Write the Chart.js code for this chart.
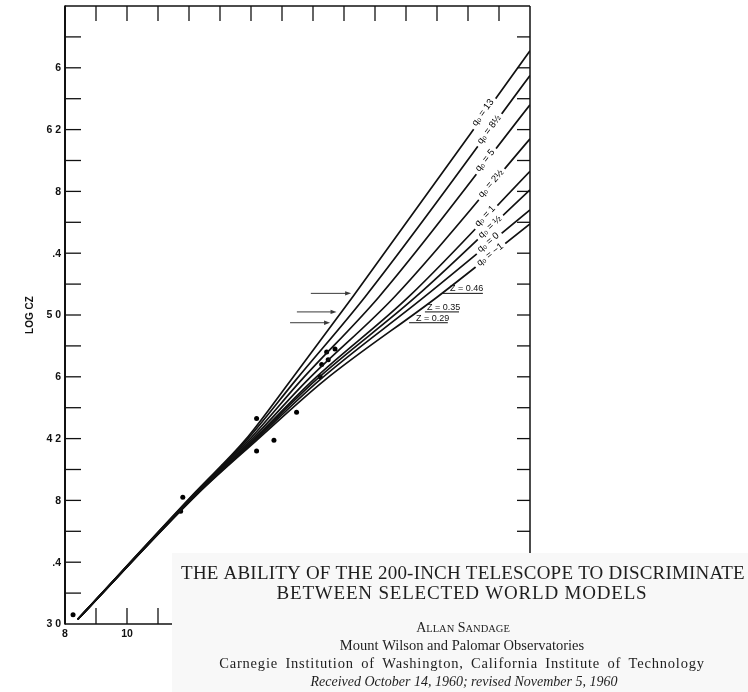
<!DOCTYPE html>
<html>
<head>
<meta charset="utf-8">
<script src="https://cdn.jsdelivr.net/npm/chart.js@4.4.0/dist/chart.umd.min.js"></script>
<style>
  html, body { margin: 0; padding: 0; background: #fff; }
  canvas { display: block; }
</style>
</head>
<body>
<canvas id="hubble-chart" width="748" height="692"></canvas>
<script>
// ─── DATA ──────────────────────────────────────────────────
const modelNames = ['q₀ = 13', 'q₀ = 8½', 'q₀ = 5', 'q₀ = 2½', 'q₀ = 1', 'q₀ = ½', 'q₀ = 0', 'q₀ = −1'];

// apparent magnitude / log cz along each model curve
const q13Mag    = [8.41, 12.19, 13.81, 15.29, 17.29, 23.0];
const q13LogCz  = [3.03, 3.85, 4.19, 4.58, 5.12, 6.71];
const q85Mag    = [8.41, 12.21, 13.86, 15.45, 17.69, 23.0];
const q85LogCz  = [3.03, 3.85, 4.19, 4.58, 5.12, 6.55];
const q5Mag     = [8.41, 12.23, 13.93, 15.63, 18.14, 23.0];
const q5LogCz   = [3.03, 3.85, 4.19, 4.58, 5.12, 6.36];
const q25Mag    = [8.41, 12.26, 14.00, 15.83, 18.64, 23.0];
const q25LogCz  = [3.03, 3.85, 4.19, 4.58, 5.12, 6.14];
const q1Mag     = [8.41, 12.28, 14.06, 16.01, 19.10, 23.0];
const q1LogCz   = [3.03, 3.85, 4.19, 4.58, 5.12, 5.93];
const qHalfMag  = [8.41, 12.29, 14.09, 16.10, 19.33, 23.0];
const qHalfLogCz= [3.03, 3.85, 4.19, 4.58, 5.12, 5.81];
const q0Mag     = [8.41, 12.30, 14.14, 16.22, 19.61, 23.0];
const q0LogCz   = [3.03, 3.85, 4.19, 4.58, 5.12, 5.68];
const qm1Mag    = [8.41, 12.32, 14.19, 16.39, 20.03, 23.0];
const qm1LogCz  = [3.03, 3.85, 4.19, 4.58, 5.12, 5.59];

// observed galaxies
const galaxyMag   = [8.26, 11.73, 11.80, 13.11, 14.18, 14.18, 14.74, 15.47, 16.23, 16.28, 16.44, 16.49, 16.71];
const galaxyLogCz = [3.06, 3.73, 3.82, 4.02, 4.12, 4.33, 4.19, 4.37, 4.60, 4.68, 4.76, 4.71, 4.78];

// curve labels
const labelMag   = [21.48, 21.68, 21.55, 21.74, 21.55, 21.71, 21.65, 21.71];
const labelLogCz = [6.31, 6.20, 6.00, 5.85, 5.64, 5.57, 5.47, 5.39];
const labelAngle = [54, 53, 52, 49, 46, 43, 40, 38];

// redshift markers
const zLabels     = ['Z = 0.46', 'Z = 0.35', 'Z = 0.29'];
const zLogCz      = [5.14, 5.02, 4.95];
const zTextMag    = [20.42, 19.68, 19.32];
const zLineFrom   = [20.19, 19.61, 19.10];
const zLineTo     = [21.48, 20.71, 20.35];
const arrowFrom   = [15.93, 15.48, 15.26];
const arrowTo     = [17.23, 16.76, 16.55];

// axes
const xTickValues = [9, 10, 11, 12, 13, 14, 15, 16, 17, 18, 19, 20, 21, 22];
const xLabelValues = [8, 10, 12, 14, 16, 18, 20, 22];
const xLabelText   = ['8', '10', '12', '14', '16', '18', '20', '22'];
const yTickValues = [3.2, 3.4, 3.6, 3.8, 4.0, 4.2, 4.4, 4.6, 4.8, 5.0, 5.2, 5.4, 5.6, 5.8, 6.0, 6.2, 6.4, 6.6, 6.8];
const yLabelValues = [3.0, 3.4, 3.8, 4.2, 4.6, 5.0, 5.4, 5.8, 6.2, 6.6];
const yLabelText   = ['3 0', '.4', '8', '4 2', '6', '5 0', '.4', '8', '6 2', '6'];

const headerLines = [
  'THE ABILITY OF THE 200-INCH TELESCOPE TO DISCRIMINATE',
  'BETWEEN SELECTED WORLD MODELS',
];
const affiliationLines = [
  'Mount Wilson and Palomar Observatories',
  'Carnegie Institution of Washington, California Institute of Technology',
];
const receivedLine = 'Received October 14, 1960; revised November 5, 1960';

// ─── HELPERS ─────────────────────────────────
const SANS = '"Liberation Sans", Arial, sans-serif';
const SERIF = '"Liberation Serif", "Times New Roman", serif';
const INK = '#111';

function seg(ctx, x0, y0, x1, y1, w) {
  ctx.lineWidth = w;
  ctx.beginPath();
  ctx.moveTo(x0, y0);
  ctx.lineTo(x1, y1);
  ctx.stroke();
}

function spaced(ctx, text, x, y, letter, word) {
  ctx.save();
  ctx.letterSpacing = letter + 'px';
  ctx.wordSpacing = word + 'px';
  ctx.fillText(text, x, y);
  ctx.restore();
}

function smallCaps(ctx, parts, cx, yBase) {
  let total = 0;
  parts.forEach(([t, size]) => {
    ctx.font = size + 'px ' + SERIF;
    total += ctx.measureText(t).width;
  });
  let cur = cx - total / 2;
  ctx.textAlign = 'left';
  parts.forEach(([t, size]) => {
    ctx.font = size + 'px ' + SERIF;
    ctx.fillText(t, cur, yBase);
    cur += ctx.measureText(t).width;
  });
}

// ─── PLATE DECORATION ─────────────────────────────────
const platePlugin = {
  id: 'plate',
  afterDatasetsDraw(chart) {
    const { ctx, chartArea: a, scales: { x, y } } = chart;
    ctx.save();
    ctx.strokeStyle = INK;
    ctx.fillStyle = INK;

    // curve labels sit in gaps of the lines
    modelNames.forEach((name, i) => {
      const px = x.getPixelForValue(labelMag[i]);
      const py = y.getPixelForValue(labelLogCz[i]);
      ctx.save();
      ctx.translate(px, py);
      ctx.rotate(-labelAngle[i] * Math.PI / 180);
      ctx.font = '9.5px ' + SANS;
      const w = ctx.measureText(name).width;
      ctx.fillStyle = '#fff';
      ctx.fillRect(-w / 2 - 3.5, -5, w + 7, 10);
      ctx.fillStyle = '#000';
      ctx.textAlign = 'center';
      ctx.textBaseline = 'middle';
      ctx.fillText(name, 0, 0);
      ctx.restore();
    });

    // arrows and z levels
    zLabels.forEach((t, i) => {
      const yy = y.getPixelForValue(zLogCz[i]);
      ctx.strokeStyle = '#3a3a3a';
      const x0 = x.getPixelForValue(arrowFrom[i]), x1 = x.getPixelForValue(arrowTo[i]);
      seg(ctx, x0, yy, x1 - 4, yy, 1);
      ctx.fillStyle = '#3a3a3a';
      ctx.beginPath();
      ctx.moveTo(x1, yy);
      ctx.lineTo(x1 - 6, yy - 2.2);
      ctx.lineTo(x1 - 6, yy + 2.2);
      ctx.closePath();
      ctx.fill();

      ctx.strokeStyle = INK;
      seg(ctx, x.getPixelForValue(zLineFrom[i]), yy, x.getPixelForValue(zLineTo[i]), yy, 1);
      ctx.fillStyle = '#111';
      ctx.font = '9px ' + SANS;
      ctx.textAlign = 'left';
      ctx.textBaseline = 'alphabetic';
      ctx.fillText(t, x.getPixelForValue(zTextMag[i]), yy - 2);
    });

    // frame
    ctx.strokeStyle = INK;
    seg(ctx, a.left, a.top - 0.5, a.left, a.bottom + 0.5, 2);
    seg(ctx, a.left, a.top, a.right, a.top, 1.5);
    seg(ctx, a.right, a.top, a.right, a.bottom, 1.5);
    seg(ctx, a.left, a.bottom, a.right, a.bottom, 1.5);

    // inward ticks
    xTickValues.forEach(v => {
      const px = x.getPixelForValue(v);
      seg(ctx, px, a.top, px, a.top + 15, 1.3);
      seg(ctx, px, a.bottom, px, a.bottom - 16, 1.3);
    });
    yTickValues.forEach(v => {
      const py = y.getPixelForValue(v);
      seg(ctx, a.left, py, a.left + 16, py, 1.3);
      seg(ctx, a.right, py, a.right - 13, py, 1.3);
    });

    // tick labels
    ctx.fillStyle = INK;
    ctx.font = 'bold 10.5px ' + SANS;
    ctx.textAlign = 'right';
    ctx.textBaseline = 'middle';
    yLabelValues.forEach((v, i) => ctx.fillText(yLabelText[i], a.left - 4, y.getPixelForValue(v) + 0.5));
    ctx.textAlign = 'center';
    ctx.textBaseline = 'top';
    xLabelValues.forEach((v, i) => ctx.fillText(xLabelText[i], x.getPixelForValue(v), a.bottom + 5));

    // axis title
    ctx.save();
    ctx.translate(30, (a.top + a.bottom) / 2);
    ctx.rotate(-Math.PI / 2);
    ctx.font = 'bold 10px ' + SANS;
    ctx.textAlign = 'center';
    ctx.textBaseline = 'middle';
    ctx.fillText('LOG CZ', 0, 0);
    ctx.restore();

    // printed heading pasted over the lower right corner
    ctx.fillStyle = '#f8f8f8';
    ctx.fillRect(172, 553, 576, 139);
    ctx.fillStyle = '#1e1e1e';
    ctx.textBaseline = 'alphabetic';
    ctx.textAlign = 'center';
    ctx.font = '19px ' + SERIF;
    spaced(ctx, headerLines[0], 463, 579, 0.2, 0);
    spaced(ctx, headerLines[1], 462, 599, 0.8, 0);
    smallCaps(ctx, [['A', 14], ['LLAN', 10.5], [' ', 14], ['S', 14], ['ANDAGE', 10.5]], 463, 632);
    ctx.textAlign = 'center';
    ctx.font = '14.5px ' + SERIF;
    ctx.fillText(affiliationLines[0], 462, 650);
    spaced(ctx, affiliationLines[1], 462, 668, 0.8, 3);
    ctx.font = 'italic 14px ' + SERIF;
    ctx.fillText(receivedLine, 464, 686);
    ctx.restore();
  }
};

// ─── CHART ─────────────────────────────────
const curveSets = [
  [q13Mag, q13LogCz], [q85Mag, q85LogCz], [q5Mag, q5LogCz], [q25Mag, q25LogCz],
  [q1Mag, q1LogCz], [qHalfMag, qHalfLogCz], [q0Mag, q0LogCz], [qm1Mag, qm1LogCz],
];

const datasets = curveSets.map(([mags, lcz], i) => ({
  label: modelNames[i],
  data: mags.map((m, j) => ({ x: m, y: lcz[j] })),
  showLine: true,
  borderColor: INK,
  borderWidth: 1.7,
  pointRadius: 0,
  cubicInterpolationMode: 'monotone',
  fill: false,
}));

datasets.push({
  label: 'galaxies',
  data: galaxyMag.map((m, j) => ({ x: m, y: galaxyLogCz[j] })),
  showLine: false,
  pointRadius: 2.5,
  pointBackgroundColor: '#000',
  pointBorderWidth: 0,
});

new Chart(document.getElementById('hubble-chart').getContext('2d'), {
  type: 'scatter',
  data: { datasets },
  options: {
    responsive: false,
    animation: false,
    layout: { padding: { left: 65, right: 218, top: 6, bottom: 68 } },
    plugins: { legend: { display: false }, tooltip: { enabled: false } },
    scales: {
      x: { type: 'linear', min: 8, max: 23, display: false },
      y: { type: 'linear', min: 3, max: 7, display: false },
    },
  },
  plugins: [platePlugin],
});
</script>
</body>
</html>
